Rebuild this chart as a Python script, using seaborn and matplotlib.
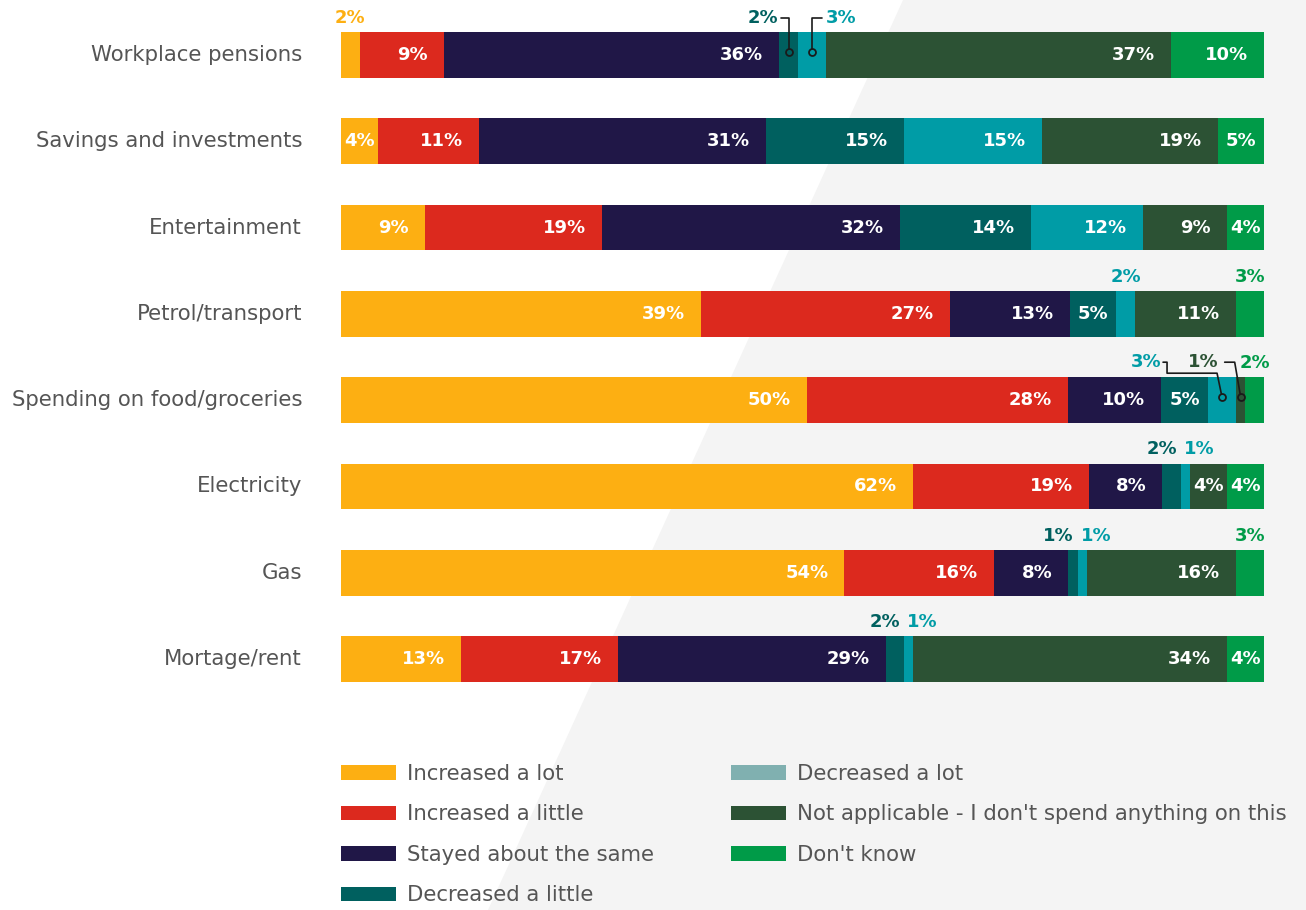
import numpy as np
import pandas as pd
import matplotlib.pyplot as plt
import seaborn as sns
from matplotlib.patches import Patch, Polygon

# Data
categories = ["Workplace pensions", "Savings and investments", "Entertainment",
              "Petrol/transport", "Spending on food/groceries", "Electricity",
              "Gas", "Mortage/rent"]
series = ["Increased a lot", "Increased a little", "Stayed about the same",
          "Decreased a little", "Decreased a lot",
          "Not applicable - I don't spend anything on this", "Don't know"]
increased_lot = [2, 4, 9, 39, 50, 62, 54, 13]
increased_little = [9, 11, 19, 27, 28, 19, 16, 17]
stayed_same = [36, 31, 32, 13, 10, 8, 8, 29]
decreased_little = [2, 15, 14, 5, 5, 2, 1, 2]
decreased_lot = [3, 15, 12, 2, 3, 1, 1, 1]
not_applicable = [37, 19, 9, 11, 1, 4, 16, 34]
dont_know = [10, 5, 4, 3, 2, 4, 3, 4]

colors = ["#fdaf12", "#dc291e", "#201747", "#00605f", "#009ca6", "#2c5234", "#009b48"]
legend_colors = ["#fdaf12", "#dc291e", "#201747", "#00605f", "#80b0b0", "#2c5234", "#009b48"]

vals = np.array([increased_lot, increased_little, stayed_same, decreased_little,
                 decreased_lot, not_applicable, dont_know], dtype=float).T
shares = vals / vals.sum(axis=1, keepdims=True) * 100
cum = shares.cumsum(axis=1)

# Layout (pixels)
W, H = 1306, 910
AX_L, AX_R, AX_T, AX_B = 341, 1264, 10, 700
ROW0, ROW_STEP = 55, 86.3
y_top = (AX_T - ROW0) / ROW_STEP
y_bot = (AX_B - ROW0) / ROW_STEP
PX_X = 100 / (AX_R - AX_L)
PX_Y = 1 / ROW_STEP
NUM_FS = 13

sns.set_theme(style="white")
plt.rcParams['font.family'] = ['DejaVu Sans']

fig = plt.figure(figsize=(W / 100, H / 100), dpi=100)
fig.patch.set_facecolor("white")
# light background shape
fig.add_artist(Polygon([(903 / W, 1), (1, 1), (1, 0), (488 / W, 0)], closed=True,
                       transform=fig.transFigure, facecolor="#f4f4f4",
                       edgecolor="none", zorder=0))

ax = fig.add_axes([AX_L / W, 1 - AX_B / H, (AX_R - AX_L) / W, (AX_B - AX_T) / H])
ax.set_facecolor("none")

df = pd.DataFrame(cum, columns=series)
df["category"] = categories
for i in reversed(range(len(series))):
    sns.barplot(data=df, x=series[i], y="category", color=colors[i], saturation=1,
                width=0.53, orient="h", linewidth=0, ax=ax)

ax.set_xlim(0, 100)
ax.set_ylim(y_bot, y_top)
ax.set_xlabel("")
ax.set_ylabel("")
ax.set_xticks([])
ax.tick_params(axis="y", length=0, pad=28, labelsize=15.3, labelcolor="#555555")
for lbl in ax.get_yticklabels():
    lbl.set_va("center")
for s in ax.spines.values():
    s.set_visible(False)

# Label specs for small segments with leader lines: offsets in px from (segment centre, bar centre)
leaders = {
    (0, 3): dict(text=(-10, -37), ha="right", pts=[(-8, -37), (0, -37), (0, -3)]),
    (0, 4): dict(text=(14, -37), ha="left", pts=[(10, -37), (0, -37), (0, -3)]),
    (4, 4): dict(text=(-61, -38), ha="right", pts=[(-59, -38), (-55, -38), (-55, -27), (-5, -27), (0, -3)]),
    (4, 5): dict(text=(-22, -38), ha="right", pts=[(-16, -38), (-6, -38), (0, -3)]),
}

for r in range(len(categories)):
    for i in range(len(series)):
        v = int(vals[r, i])
        start = cum[r, i] - shares[r, i]
        end = cum[r, i]
        center = (start + end) / 2
        wpx = shares[r, i] / PX_X
        lab = f"{v}%"
        if v >= 4:
            if wpx > 60:
                ax.text(end - 16 * PX_X, r, lab, ha="right", va="center", color="white",
                        fontsize=NUM_FS, fontweight="bold", zorder=5)
            else:
                ax.text(center, r, lab, ha="center", va="center", color="white",
                        fontsize=NUM_FS, fontweight="bold", zorder=5)
            continue
        if (r, i) in leaders:
            spec = leaders[(r, i)]
            tx, ty = spec["text"]
            ax.text(center + tx * PX_X, r + ty * PX_Y, lab, ha=spec["ha"], va="center",
                    color=colors[i], fontsize=NUM_FS, fontweight="bold", zorder=5)
            xs = [center + p[0] * PX_X for p in spec["pts"]]
            ys = [r + p[1] * PX_Y for p in spec["pts"]]
            ax.plot(xs, ys, color="#1a1a1a", lw=1.2, zorder=6, clip_on=False)
            ax.plot(xs[-1], ys[-1], marker="o", ms=5, mfc=colors[i], mec="#1a1a1a",
                    mew=1.3, zorder=7, clip_on=False)
            continue
        pair_left = i == 3 and vals[r, 4] < 4
        pair_right = i == 4 and vals[r, 3] < 4
        if pair_left:
            ax.text(end - 4 * PX_X, r - 37 * PX_Y, lab, ha="right", va="center",
                    color=colors[i], fontsize=NUM_FS, fontweight="bold", zorder=5)
        elif pair_right:
            ax.text(start + 3 * PX_X, r - 37 * PX_Y, lab, ha="left", va="center",
                    color=colors[i], fontsize=NUM_FS, fontweight="bold", zorder=5)
        else:
            ax.text(center, r - 37 * PX_Y, lab, ha="center", va="center",
                    color=colors[i], fontsize=NUM_FS, fontweight="bold", zorder=5)

handles = [Patch(facecolor=c, edgecolor="none") for c in legend_colors]
leg = fig.legend(handles, series, ncol=2, loc="upper left",
                 bbox_to_anchor=(AX_L / W, 1 - 764 / H), frameon=False,
                 fontsize=15.3, labelcolor="#555555", handlelength=2.59,
                 handleheight=0.66, handletextpad=0.52, labelspacing=0.96,
                 columnspacing=3.6, borderaxespad=0, borderpad=0)

fig.savefig("out.png", dpi=100, facecolor=fig.get_facecolor())
